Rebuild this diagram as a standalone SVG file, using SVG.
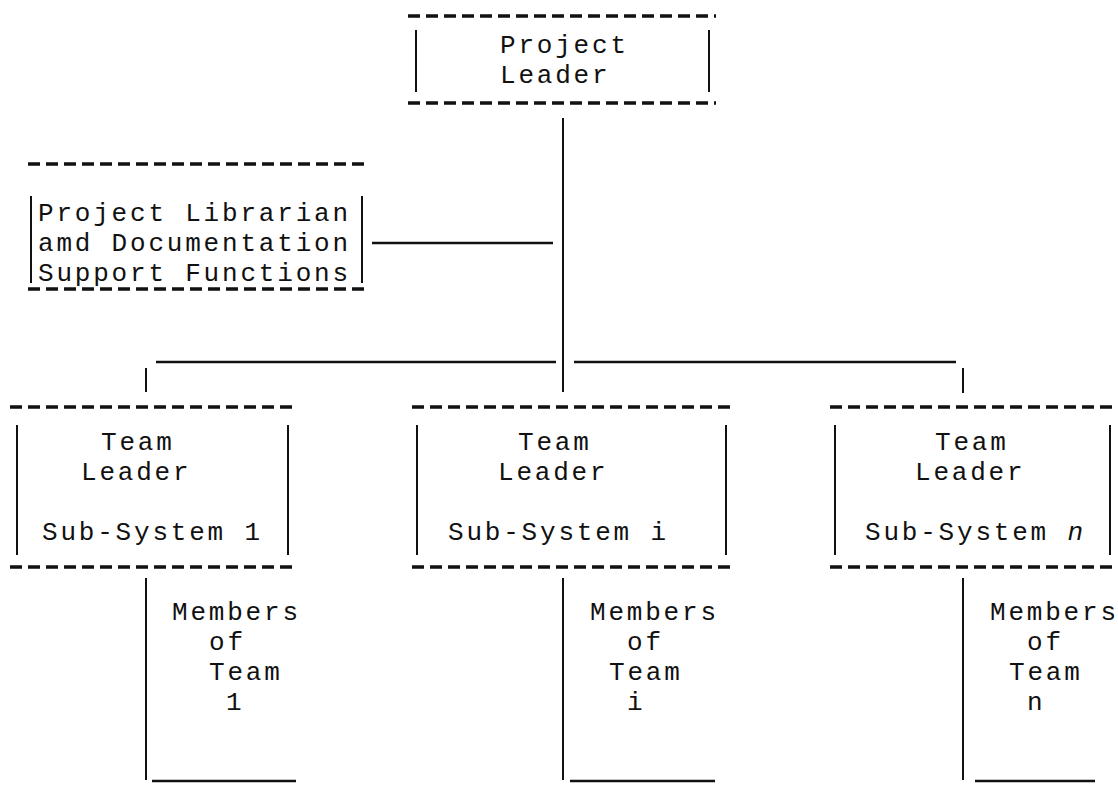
<svg xmlns="http://www.w3.org/2000/svg" width="1118" height="786" viewBox="0 0 1118 786">
  <style>
    .t { font-family: "Liberation Mono", "Courier New", monospace; font-size: 26px; letter-spacing: 2.8px; fill: #111; }
    .dash { stroke: #111; stroke-width: 3.5; stroke-dasharray: 12 6; fill: none; }
    .bar { stroke: #111; stroke-width: 2; fill: none; }
    .wire { stroke: #111; stroke-width: 2.5; fill: none; }
  </style>
  <rect width="1118" height="786" fill="#fff"/>

  <g id="connectors">
    <!-- trunk from project leader down to the team rail -->
    <line class="bar" x1="563" y1="118" x2="563" y2="392"/>
    <!-- branch to librarian -->
    <line class="wire" x1="372" y1="243" x2="553" y2="243"/>
    <!-- team rail -->
    <line class="wire" x1="156" y1="362" x2="556" y2="362"/>
    <line class="wire" x1="574" y1="362" x2="956" y2="362"/>
    <line class="bar" x1="146" y1="368" x2="146" y2="392"/>
    <line class="bar" x1="963" y1="368" x2="963" y2="393"/>
  </g>

  <g id="project-leader">
    <line class="dash" x1="408" y1="16" x2="716" y2="16"/>
    <line class="dash" x1="408" y1="103" x2="716" y2="103"/>
    <line class="bar" x1="416" y1="30" x2="416" y2="92"/>
    <line class="bar" x1="709" y1="30" x2="709" y2="92"/>
    <text class="t" x="500" y="53">Project</text>
    <text class="t" x="500" y="83">Leader</text>
  </g>

  <g id="librarian">
    <line class="dash" x1="28" y1="164" x2="365" y2="164"/>
    <line class="dash" x1="28" y1="289" x2="365" y2="289"/>
    <line class="bar" x1="31" y1="196" x2="31" y2="283"/>
    <line class="bar" x1="362" y1="196" x2="362" y2="283"/>
    <text class="t" x="38" y="221">Project Librarian</text>
    <text class="t" x="38" y="251">amd Documentation</text>
    <text class="t" x="38" y="281">Support Functions</text>
  </g>

  <g id="team-1">
    <line class="dash" x1="10" y1="407" x2="292" y2="407"/>
    <line class="dash" x1="10" y1="567" x2="292" y2="567"/>
    <line class="bar" x1="17" y1="425" x2="17" y2="555"/>
    <line class="bar" x1="288" y1="425" x2="288" y2="555"/>
    <text class="t" x="101" y="450">Team</text>
    <text class="t" x="81" y="480">Leader</text>
    <text class="t" x="42" y="540">Sub-System 1</text>
  </g>

  <g id="team-i">
    <line class="dash" x1="412" y1="407" x2="732" y2="407"/>
    <line class="dash" x1="412" y1="567" x2="732" y2="567"/>
    <line class="bar" x1="417" y1="425" x2="417" y2="555"/>
    <line class="bar" x1="726" y1="425" x2="726" y2="555"/>
    <text class="t" x="518" y="450">Team</text>
    <text class="t" x="498" y="480">Leader</text>
    <text class="t" x="448" y="540">Sub-System i</text>
  </g>

  <g id="team-n">
    <line class="dash" x1="830" y1="407" x2="1116" y2="407"/>
    <line class="dash" x1="830" y1="567" x2="1116" y2="567"/>
    <line class="bar" x1="835" y1="425" x2="835" y2="555"/>
    <line class="bar" x1="1110" y1="425" x2="1110" y2="555"/>
    <text class="t" x="935" y="450">Team</text>
    <text class="t" x="915" y="480">Leader</text>
    <text class="t" x="865" y="540">Sub-System <tspan font-style="italic">n</tspan></text>
  </g>

  <g id="members-1">
    <line class="bar" x1="146" y1="578" x2="146" y2="780"/>
    <line class="wire" x1="152" y1="781" x2="296" y2="781"/>
    <text class="t" x="172" y="620">Members</text>
    <text class="t" x="209" y="650">of</text>
    <text class="t" x="209" y="680">Team</text>
    <text class="t" x="226" y="710">1</text>
  </g>

  <g id="members-i">
    <line class="bar" x1="563" y1="578" x2="563" y2="780"/>
    <line class="wire" x1="570" y1="781" x2="715" y2="781"/>
    <text class="t" x="590" y="620">Members</text>
    <text class="t" x="627" y="650">of</text>
    <text class="t" x="609" y="680">Team</text>
    <text class="t" x="627" y="710">i</text>
  </g>

  <g id="members-n">
    <line class="bar" x1="963" y1="578" x2="963" y2="780"/>
    <line class="wire" x1="975" y1="781" x2="1095" y2="781"/>
    <text class="t" x="990" y="620">Members</text>
    <text class="t" x="1027" y="650">of</text>
    <text class="t" x="1009" y="680">Team</text>
    <text class="t" x="1027" y="710">n</text>
  </g>
</svg>
